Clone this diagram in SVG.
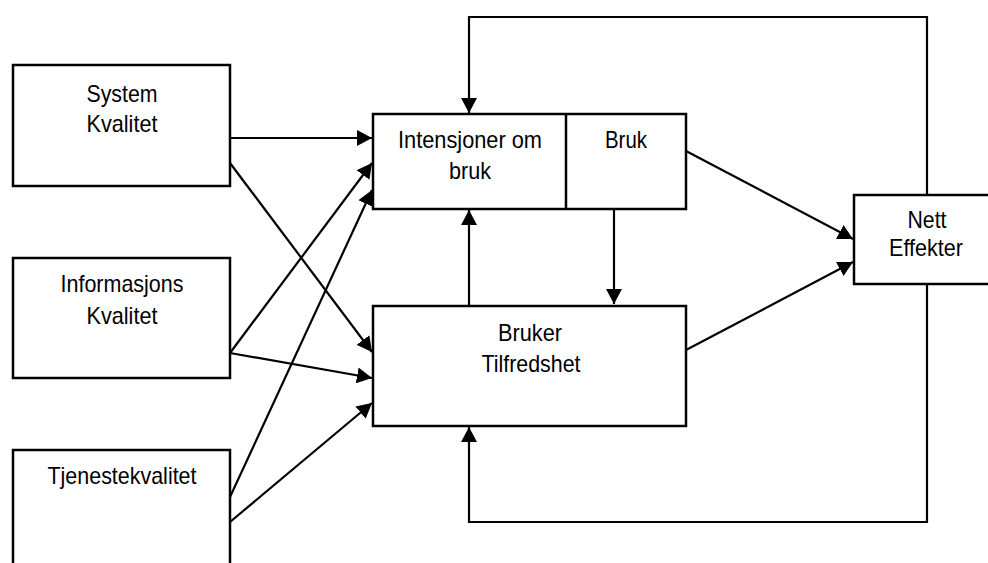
<svg xmlns="http://www.w3.org/2000/svg" width="988" height="563" viewBox="0 0 988 563">
  <style>
    .box { fill: #ffffff; stroke: #000000; stroke-width: 2.5; }
    .div { stroke: #000000; stroke-width: 2.5; fill: none; }
    .lbl { font-family: "Liberation Sans", Arial, sans-serif; font-size: 24px; fill: #000000; text-anchor: middle; }
    .edge { fill: none; stroke: #000000; stroke-width: 2.2; }
    .arr { marker-end: url(#head); }
  </style>
  <defs>
    <marker id="head" markerUnits="userSpaceOnUse" markerWidth="16" markerHeight="16" refX="15" refY="8" orient="auto">
      <path d="M0,0 L15,8 L0,16 Z" fill="#000000"/>
    </marker>
  </defs>
  <rect width="988" height="563" fill="#ffffff"/>

  <g id="connectors">
    <!-- feedback loops from Nett Effekter -->
    <path class="edge arr" d="M927,195 V17 H469 V113"/>
    <path class="edge arr" d="M927,284 V522 H469 V427"/>
    <!-- between the two central boxes -->
    <path class="edge arr" d="M469,305 V210"/>
    <path class="edge arr" d="M614,209 V304"/>
    <!-- into Nett Effekter -->
    <path class="edge arr" d="M686,151 L853,239"/>
    <path class="edge arr" d="M686,350 L853,262"/>
    <!-- quality inputs -->
    <path class="edge arr" d="M230,138 L372,138"/>
    <path class="edge arr" d="M230,163 L372,352"/>
    <path class="edge arr" d="M230,353 L372,163"/>
    <path class="edge arr" d="M230,353 L372,378"/>
    <path class="edge arr" d="M230,497 L372,190"/>
    <path class="edge arr" d="M230,522 L372,403"/>
  </g>

  <g id="system-kvalitet">
    <rect class="box" x="13" y="65" width="217" height="121"/>
    <text class="lbl" x="122" y="102" textLength="71" lengthAdjust="spacingAndGlyphs">System</text>
    <text class="lbl" x="122" y="132" textLength="71" lengthAdjust="spacingAndGlyphs">Kvalitet</text>
  </g>

  <g id="informasjons-kvalitet">
    <rect class="box" x="13" y="258" width="217" height="120"/>
    <text class="lbl" x="122" y="292" textLength="123" lengthAdjust="spacingAndGlyphs">Informasjons</text>
    <text class="lbl" x="122" y="324" textLength="71" lengthAdjust="spacingAndGlyphs">Kvalitet</text>
  </g>

  <g id="tjenestekvalitet">
    <rect class="box" x="13" y="450" width="217" height="130"/>
    <text class="lbl" x="122" y="484" textLength="149" lengthAdjust="spacingAndGlyphs">Tjenestekvalitet</text>
  </g>

  <g id="intensjoner-bruk">
    <rect class="box" x="373" y="114" width="313" height="95"/>
    <line class="div" x1="566" y1="114" x2="566" y2="209"/>
    <text class="lbl" x="470" y="148" textLength="144" lengthAdjust="spacingAndGlyphs">Intensjoner om</text>
    <text class="lbl" x="470" y="179" textLength="42" lengthAdjust="spacingAndGlyphs">bruk</text>
    <text class="lbl" x="626" y="148" textLength="42" lengthAdjust="spacingAndGlyphs">Bruk</text>
  </g>

  <g id="bruker-tilfredshet">
    <rect class="box" x="373" y="306" width="313" height="120"/>
    <text class="lbl" x="530" y="341" textLength="64" lengthAdjust="spacingAndGlyphs">Bruker</text>
    <text class="lbl" x="531" y="372" textLength="99" lengthAdjust="spacingAndGlyphs">Tilfredshet</text>
  </g>

  <g id="nett-effekter">
    <rect class="box" x="854" y="195" width="140" height="89"/>
    <text class="lbl" x="927" y="228" textLength="39" lengthAdjust="spacingAndGlyphs">Nett</text>
    <text class="lbl" x="926" y="256" textLength="74" lengthAdjust="spacingAndGlyphs">Effekter</text>
  </g>
</svg>
